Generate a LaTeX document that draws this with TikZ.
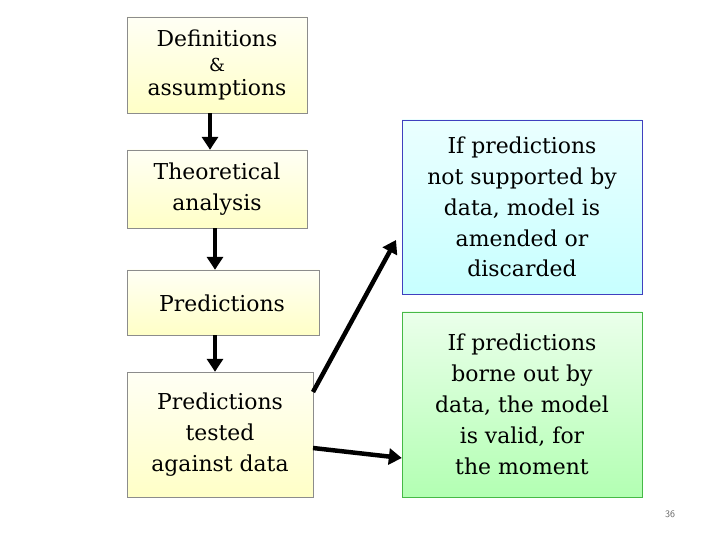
\documentclass[tikz,border=0pt]{standalone}
\usepackage{fontspec}
\setmainfont{DejaVu Serif}
\usetikzlibrary{positioning,arrows.meta}
\tikzset{%
stepbox/.style={draw=black!45,inner sep=0pt,align=center,font=\fontsize{22}{31}\selectfont},
yelbox/.style={stepbox,top color=yellow!4,bottom color=yellow!22},
cyanbox/.style={stepbox,draw=blue!50!gray,top color=cyan!8,bottom color=cyan!22},
grnbox/.style={stepbox,draw=green!45!gray,top color=green!8,bottom color=green!30},
flow/.style={line width=4.5pt,-{Triangle[length=13pt,width=16pt]}}
}
\begin{document}
\begin{tikzpicture}[x=1bp,y=-1bp]
  \useasboundingbox (0,0) rectangle (720,540);

  \node[yelbox,minimum width=180bp,minimum height=96bp] (defs) at (217,65)
    {Definitions\\[-6pt]{\fontsize{18}{20}\selectfont\&}\\[-6pt]assumptions};
  \node[yelbox,minimum width=180bp,minimum height=78bp] (theory) at (217,189)
    {Theoretical\\analysis};
  \node[yelbox,minimum width=192bp,minimum height=65bp] (pred) at (223,302.5) {};
  \node[font=\fontsize{22}{31}\selectfont] (predtxt) at (222,303) {Predictions};
  \node[yelbox,minimum width=186bp,minimum height=125bp] (tested) at (220,434.5)
    {Predictions\\tested\\against data};

  \node[cyanbox,minimum width=240bp,minimum height=174bp] (amend) at (522,207)
    {If predictions\\not supported by\\data, model is\\amended or\\discarded};
  \node[grnbox,minimum width=240bp,minimum height=185bp] (valid) at (522,404.5)
    {If predictions\\borne out by\\data, the model\\is valid, for\\the moment};

  \draw[flow] (defs.south -| 210,0) -- (theory.north -| 210,0);
  \draw[flow] (theory.south -| 215,0) -- (pred.north -| 215,0);
  \draw[flow] (pred.south -| 215,0) -- (tested.north -| 215,0);
  \coordinate (up) at (313,392);
  \coordinate (dn) at (313,448);
  \draw[flow] (up) -- (396,240);
  \draw[flow] (dn) -- (valid.west |- 0,458);

  \node[text=black!60,font=\fontsize{10}{11}\sffamily] (page) at (670,514) {36};
\end{tikzpicture}
\end{document}
